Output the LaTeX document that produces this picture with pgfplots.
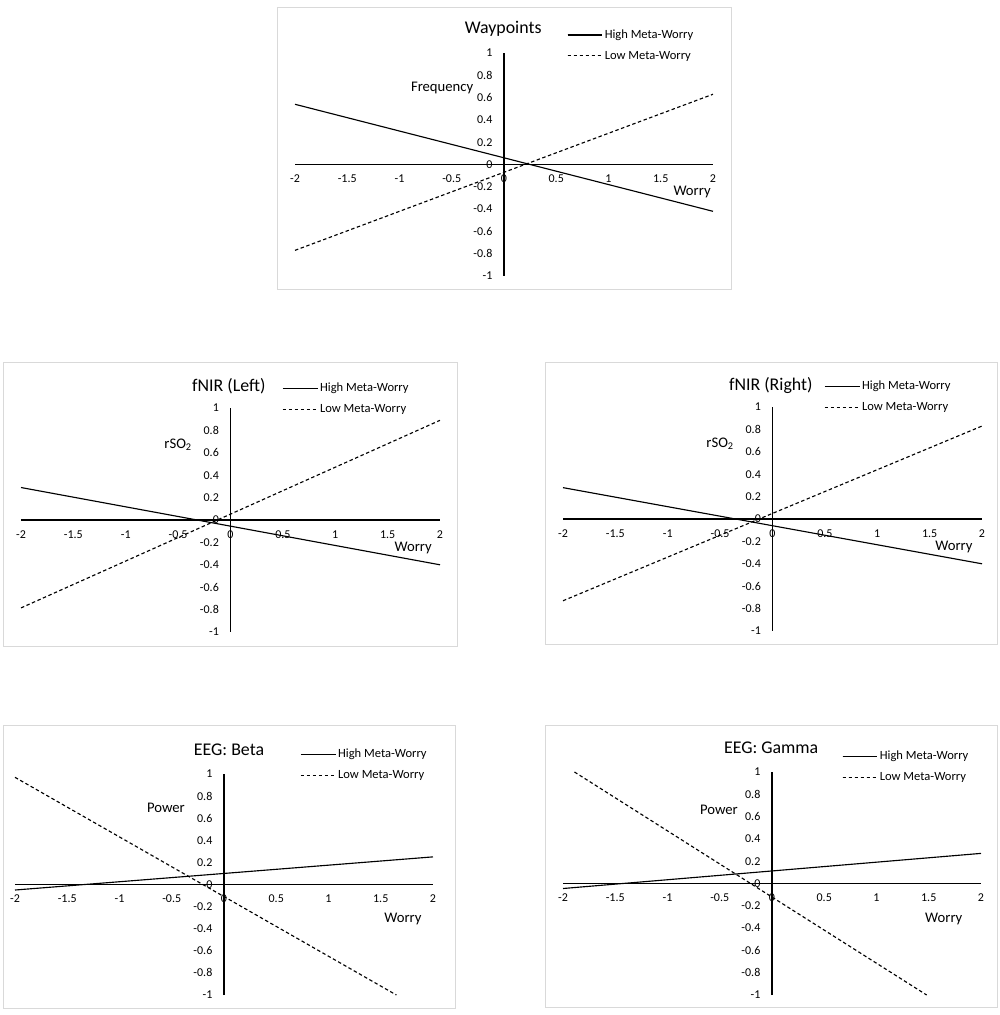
\documentclass[border=0pt]{standalone}
\usepackage{pgfplots}
\pgfplotsset{compat=1.18}
\usepackage{fontspec}
\setmainfont{Carlito}
\pgfplotsset{
  panel/.style={
    scale only axis,
    axis lines=middle,
    axis line style={-, black, line width=0.85pt},
    xmin=-2, xmax=2, ymin=-1, ymax=1,
    xtick={-2,-1.5,-1,-0.5,0,0.5,1,1.5,2},
    ytick={-1,-0.8,-0.6,-0.4,-0.2,0,0.2,0.4,0.6,0.8,1},
    major tick length=0pt,
    hide obscured x ticks=false,
    hide obscured y ticks=false,
    /pgf/number format/assume math mode=true,
    tick label style={font=\fontsize{9}{10}\selectfont, black},
    xticklabel style={yshift=-4.3pt},
    yticklabel style={xshift=-5.2pt},
    every axis title shift=0pt,
    title style={font=\fontsize{13.4}{15}\selectfont, anchor=center, yshift=0pt},
    xlabel style={font=\fontsize{11}{12}\selectfont, anchor=center},
    ylabel style={font=\fontsize{11}{12}\selectfont, anchor=center, rotate=0},
    legend cell align=left,
    legend style={draw=none, fill=none, inner sep=0pt, anchor=west,
      font=\fontsize{9.4}{11}\selectfont,
      nodes={inner sep=1.5pt, text height=6.8pt, text depth=2pt},
      row sep=3.8pt},
    legend image code/.code={\draw[#1] (0pt,0pt) -- (23pt,0pt); \path (0pt,0pt) -- (26pt,0pt);},
    clip=false,
  },
  hi/.style={black, line width=0.85pt, solid},
  lo/.style={black, line width=0.85pt, dash pattern=on 2.6pt off 1.9pt},
}
\tikzset{bord/.style={draw={rgb,255:red,217;green,217;blue,217}, line width=0.75pt}}
\begin{document}
\begin{tikzpicture}
\path[use as bounding box] (0pt,0pt) rectangle (750pt,761.25pt);
% borders
\draw[bord] (207.75pt,755.25pt) rectangle (548.25pt,543.75pt);
\draw[bord] (2.25pt,489pt) rectangle (342.75pt,276pt);
\draw[bord] (408.75pt,489pt) rectangle (747.75pt,277.5pt);
\draw[bord] (2.25pt,216.75pt) rectangle (341.25pt,4.5pt);
\draw[bord] (408.75pt,216.75pt) rectangle (747.75pt,5.25pt);

% Top: Waypoints
\begin{axis}[panel, at={(221.25pt,554.25pt)}, anchor=south west,
  width=313.5pt, height=167.25pt,
  title={Waypoints}, title style={at={(0.498,1.108)}},
  xlabel={Worry}, xlabel style={at={(0.950,0.377)}},
  ylabel={Frequency}, ylabel style={at={(0.352,0.843)}},
  legend style={at={(0.650,1.034)}}]
\addplot[hi] coordinates {(-2,0.54) (2,-0.42)};
\addlegendentry{High Meta-Worry}
\addplot[lo] coordinates {(-2,-0.77) (2,0.63)};
\addlegendentry{Low Meta-Worry}
\end{axis}

% Middle left: fNIR (Left)
\begin{axis}[panel, at={(15.75pt,287.25pt)}, anchor=south west,
  width=314.25pt, height=168pt,
  title={fNIR (Left)}, title style={at={(0.496,1.098)}},
  xlabel={Worry}, xlabel style={at={(0.936,0.375)}},
  ylabel={rSO\textsubscript{2}}, ylabel style={at={(0.375,0.835)}},
  legend style={at={(0.623,1.040)}}]
\addplot[hi] coordinates {(-2,0.29) (2,-0.40)};
\addlegendentry{High Meta-Worry}
\addplot[lo] coordinates {(-2,-0.785) (2,0.89)};
\addlegendentry{Low Meta-Worry}
\end{axis}

% Middle right: fNIR (Right)
\begin{axis}[panel, at={(422.25pt,288pt)}, anchor=south west,
  width=314.25pt, height=168pt,
  title={fNIR (Right)}, title style={at={(0.496,1.098)}},
  xlabel={Worry}, xlabel style={at={(0.933,0.375)}},
  ylabel={rSO\textsubscript{2}}, ylabel style={at={(0.375,0.835)}},
  legend style={at={(0.623,1.044)}}]
\addplot[hi] coordinates {(-2,0.28) (2,-0.40)};
\addlegendentry{High Meta-Worry}
\addplot[lo] coordinates {(-2,-0.73) (2,0.83)};
\addlegendentry{Low Meta-Worry}
\end{axis}

% Bottom left: EEG Beta
\begin{axis}[panel, at={(11.25pt,15pt)}, anchor=south west,
  width=313.5pt, height=165.75pt,
  title={EEG: Beta}, title style={at={(0.512,1.109)}},
  xlabel={Worry}, xlabel style={at={(0.928,0.344)}},
  ylabel={Power}, ylabel style={at={(0.361,0.846)}},
  legend style={at={(0.682,1.041)}}]
\addplot[hi] coordinates {(-2,-0.05) (2,0.25)};
\addlegendentry{High Meta-Worry}
\addplot[lo] coordinates {(-2,0.97) (1.65,-1)};
\addlegendentry{Low Meta-Worry}
\end{axis}

% Bottom right: EEG Gamma
\begin{axis}[panel, at={(422.25pt,15pt)}, anchor=south west,
  width=313.5pt, height=167.25pt,
  title={EEG: Gamma}, title style={at={(0.498,1.108)}},
  xlabel={Worry}, xlabel style={at={(0.911,0.341)}},
  ylabel={Power}, ylabel style={at={(0.373,0.830)}},
  legend style={at={(0.667,1.023)}}]
\addplot[hi] coordinates {(-2,-0.045) (2,0.27)};
\addlegendentry{High Meta-Worry}
\addplot[lo] coordinates {(-1.89,1.0) (1.48,-1)};
\addlegendentry{Low Meta-Worry}
\end{axis}
\end{tikzpicture}
\end{document}
